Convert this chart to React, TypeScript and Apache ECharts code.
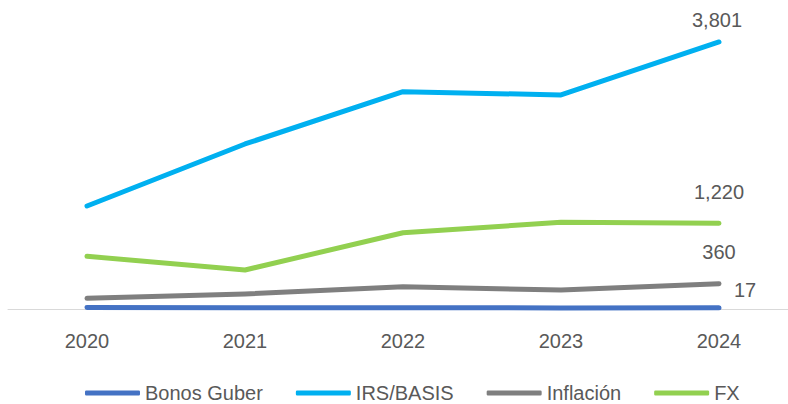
import React, { useEffect, useRef } from "react";
import * as echarts from "echarts";

const categories = ["2020", "2021", "2022", "2023", "2024"];
const bonosGuber = [20, 18, 19, 16, 17];
const irsBasis = [1466, 2349, 3094, 3047, 3801];
const inflacion = [152, 214, 318, 270, 360];
const fx = [750, 555, 1086, 1234, 1220];

const FONT = "'Liberation Sans', Arial, sans-serif";
const TEXT = "#595959";

function buildData(values: number[], labelCfg: any) {
  return values.map((v, i) =>
    i === values.length - 1
      ? { value: v, label: { show: true, ...labelCfg } }
      : { value: v }
  );
}

export default function App() {
  const ref = useRef<HTMLDivElement>(null);
  useEffect(() => {
    if (!ref.current) return;
    const chart = echarts.init(ref.current, undefined, { renderer: "svg" });
    const baseLabel = {
      fontFamily: FONT,
      fontSize: 20,
      color: TEXT,
      formatter: (p: any) => Number(p.value).toLocaleString("en-US"),
    };
    const mk = (name: string, values: number[], color: string, lab: any) => ({
      name,
      type: "line",
      data: buildData(values, { ...baseLabel, ...lab }),
      symbol: "circle",
      symbolSize: 0,
      showSymbol: true,
      itemStyle: { color },
      lineStyle: { color, width: 5, cap: "round", join: "round" },
      label: { show: false },
      z: 2,
    });
    chart.setOption({
      animation: false,
      grid: { left: 8, right: 0, top: 28, bottom: 95 },
      xAxis: {
        type: "category",
        data: categories,
        boundaryGap: true,
        axisLine: { lineStyle: { color: "#D9D9D9", width: 1 } },
        axisTick: { show: false },
        axisLabel: { fontFamily: FONT, fontSize: 20, color: TEXT, margin: 22 },
      },
      yAxis: {
        type: "value",
        min: 0,
        max: 4000,
        show: false,
        splitLine: { show: false },
      },
      legend: {
        left: 80,
        top: 378,
        icon: "roundRect",
        itemWidth: 55,
        itemHeight: 5,
        itemGap: 33,
        textStyle: { fontFamily: FONT, fontSize: 20, color: TEXT },
        data: ["Bonos Guber", "IRS/BASIS", "Inflación", "FX"],
      },
      series: [
        mk("Bonos Guber", bonosGuber, "#4472C4", { position: "top", distance: 8, offset: [26, 0] }),
        mk("IRS/BASIS", irsBasis, "#00B0F0", { position: "top", distance: 12, offset: [-2, 0] }),
        mk("Inflación", inflacion, "#7F7F7F", { position: "top", distance: 22 }),
        mk("FX", fx, "#92D050", { position: "top", distance: 21 }),
      ],
    });
    return () => chart.dispose();
  }, []);
  return (
    <div
      style={{
        position: "fixed",
        left: 0,
        top: 0,
        width: 788,
        height: 404,
        overflow: "hidden",
        background: "#fff",
      }}
    >
      <div ref={ref} style={{ width: 798, height: 404 }} />
    </div>
  );
}
